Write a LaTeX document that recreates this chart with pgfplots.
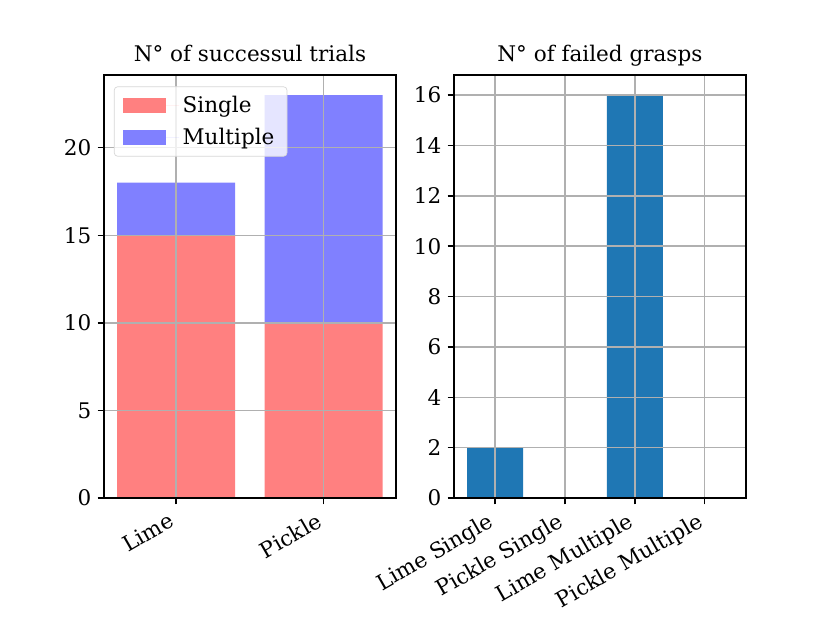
\documentclass[border=0pt]{standalone}
\usepackage{fontspec}
\setmainfont{DejaVu Serif}
\usepackage{pgfplots}
\pgfplotsset{compat=1.18}
\definecolor{single}{HTML}{FF8080}
\definecolor{multiple}{HTML}{8080FF}
\definecolor{tabblue}{HTML}{1F77B4}
\definecolor{gridgray}{HTML}{B0B0B0}

\pgfplotsset{
  mplstyle/.style={
    scale only axis,
    width=162.1bp, height=234.9bp,
    axis on top,
    grid=major,
    major grid style={gridgray, line width=0.8bp},
    axis line style={line width=0.8bp},
    tick style={black, line width=0.8bp},
    tick align=outside,
    major tick length=3.5bp,
    xtick pos=bottom, ytick pos=left,
    tick label style={font=\fontsize{12}{14}\selectfont},
    /pgf/number format/assume math mode=true,
    title style={font=\fontsize{12}{14}\selectfont, at={(0.5,1)}, anchor=base, yshift=1.5bp},
    xticklabel style={rotate=30, anchor=north east, inner sep=2bp, xshift=-4bp, yshift=1bp},
    ymin=0,
  }
}

\begin{document}
\begin{tikzpicture}
\useasboundingbox (0,0) rectangle (460.8bp,345.9bp);

\begin{axis}[mplstyle,
  at={(57.7bp,69.4bp)}, anchor=south west,
  title={N° of successul trials},
  ybar stacked, bar width=0.8,
  xmin=-0.49, xmax=1.49, ymax=24.15,
  xtick={0,1}, xticklabels={Lime,Pickle},
  ytick={0,5,10,15,20},
  legend cell align=left,
  legend style={at={(0.034,0.973)}, anchor=north west, draw=gridgray!50,
    rounded corners=2bp, fill=white, fill opacity=0.8, text opacity=1,
    font=\fontsize{12}{14}\selectfont, row sep=3.5bp, inner xsep=5bp, inner ysep=3bp,
    nodes={inner sep=2bp}},
  legend image code/.code={\fill[#1, fill opacity=1, sharp corners] (0bp,-4.2bp) rectangle (24bp,4.2bp);
    \path (0bp,0bp) -- (31bp,0bp);},
]
\addplot[draw=none, fill=single] coordinates {(0,15) (1,10)};
\addlegendentry{Single}
\addplot[draw=none, fill=multiple] coordinates {(0,3) (1,13)};
\addlegendentry{Multiple}
\end{axis}

\begin{axis}[mplstyle,
  at={(252.0bp,69.4bp)}, anchor=south west,
  title={N° of failed grasps},
  ybar, bar width=0.8, bar shift=0pt,
  xmin=-0.59, xmax=3.59, ymax=16.8,
  xtick={0,1,2,3},
  xticklabels={Lime Single,Pickle Single,Lime Multiple,Pickle Multiple},
  ytick={0,2,4,6,8,10,12,14,16},
]
\addplot[draw=none, fill=tabblue] coordinates {(0,2) (1,0) (2,16) (3,0)};
\end{axis}
\end{tikzpicture}
\end{document}
